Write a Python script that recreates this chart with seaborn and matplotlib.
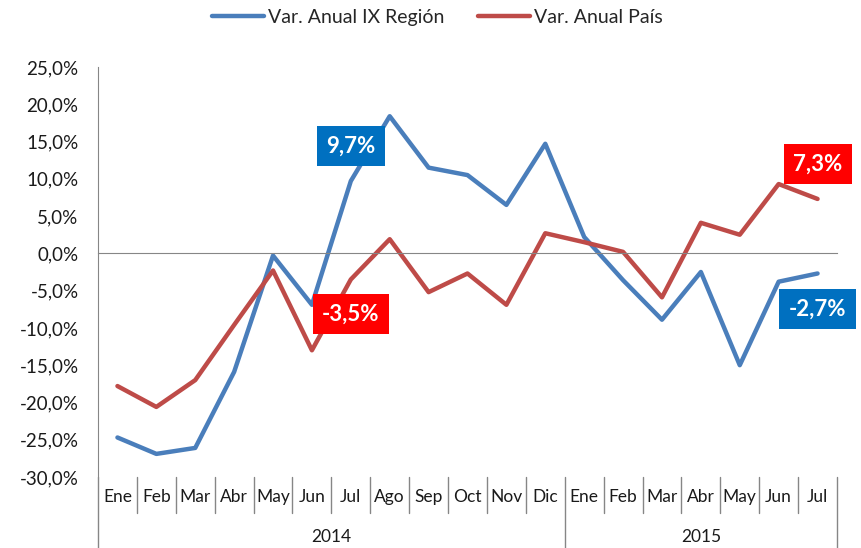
import matplotlib
matplotlib.use("Agg")
import matplotlib.pyplot as plt
import numpy as np
import pandas as pd
import seaborn as sns

meses = ["Ene", "Feb", "Mar", "Abr", "May", "Jun", "Jul", "Ago", "Sep", "Oct", "Nov", "Dic",
         "Ene", "Feb", "Mar", "Abr", "May", "Jun", "Jul"]
anios = ["2014", "2015"]
meses_por_anio = [12, 7]

region = [-24.7, -26.9, -26.1, -15.9, -0.3, -6.9, 9.7, 18.4, 11.5, 10.5, 6.5, 14.7,
          2.2, -3.6, -8.9, -2.5, -15.0, -3.8, -2.7]
pais = [-17.8, -20.6, -17.0, -9.6, -2.3, -13.0, -3.5, 1.9, -5.2, -2.7, -6.9, 2.7,
        1.5, 0.2, -5.9, 4.1, 2.5, 9.3, 7.3]

series = ["Var. Anual IX Región", "Var. Anual País"]
colores = ["#4A7EBB", "#BE4B48"]

n = len(meses)
df = pd.concat([
    pd.DataFrame({"idx": np.arange(n), "valor": region, "serie": series[0]}),
    pd.DataFrame({"idx": np.arange(n), "valor": pais, "serie": series[1]}),
])

sns.set_style("white")
plt.rcParams["font.family"] = ["Lato", "DejaVu Sans"]
gris = "#868686"

fig = plt.figure(figsize=(8.61, 5.48), dpi=100)
ax = fig.add_axes([98 / 861, 71 / 548, 739 / 861, 410 / 548])

sns.lineplot(data=df, x="idx", y="valor", hue="serie", palette=colores,
             linewidth=3.2, ax=ax, legend=False)

ax.set_xlim(-0.5, n - 0.5)
ax.set_ylim(-30, 25)
ax.set_yticks(np.arange(-30, 26, 5))
ax.set_yticklabels([f"{v:.1f}%".replace(".", ",") for v in np.arange(-30, 26, 5)],
                   fontsize=13.5, color="#1a1a1a")
ax.set_xlabel("")
ax.set_ylabel("")

for s in ["top", "right"]:
    ax.spines[s].set_visible(False)
ax.spines["left"].set_color(gris)
ax.spines["bottom"].set_color(gris)
ax.spines["bottom"].set_position(("data", 0))
ax.set_xticks(np.arange(-0.5, n, 1))
ax.set_xticklabels([])
ax.tick_params(axis="x", direction="out", length=5, color=gris, width=1)
ax.tick_params(axis="y", direction="out", length=5, color=gris, width=1, pad=9)

# etiquetas de meses y años bajo el eje
trans = ax.get_xaxis_transform()
for i, m in enumerate(meses):
    ax.text(i, -0.049, m, transform=trans, ha="center", va="center", fontsize=12.5,
            color="#1a1a1a", clip_on=False)
limites = np.cumsum(meses_por_anio)
for b in range(1, n + 1):
    largo = b in limites
    ax.plot([b - 0.5, b - 0.5], [0, -0.173 if largo else -0.088], transform=trans,
            color=gris, lw=1, clip_on=False)
ax.plot([-0.5, -0.5], [0, -0.173], transform=trans, color=gris, lw=1, clip_on=False)
inicio = 0
for a, k in zip(anios, meses_por_anio):
    ax.text(inicio + (k - 1) / 2, -0.146, a, transform=trans, ha="center", va="center",
            fontsize=12.5, color="#1a1a1a", clip_on=False)
    inicio += k

# cuadros con valores destacados
etiquetas = [(6, 14.4, region[6], "#0070C0"), (6, -8.1, pais[6], "#FF0000"),
             (18, 12.0, pais[18], "#FF0000"), (18, -7.5, region[18], "#0070C0")]
for x, y, v, c in etiquetas:
    ax.text(x, y, f"{v:.1f}%".replace(".", ","), ha="center", va="center",
            fontsize=16, fontweight="bold", color="white", clip_on=False,
            bbox=dict(boxstyle="square,pad=0.42", fc=c, ec="none"))

handles = [plt.Line2D([], [], color=c, lw=3.2, solid_capstyle="round") for c in colores]
fig.legend(handles, series, loc="center", bbox_to_anchor=(0.508, 0.968), ncol=2,
           frameon=False, fontsize=14, handlelength=2.7, handletextpad=0.2,
           columnspacing=1.7)

fig.savefig("out.png", dpi=100)
